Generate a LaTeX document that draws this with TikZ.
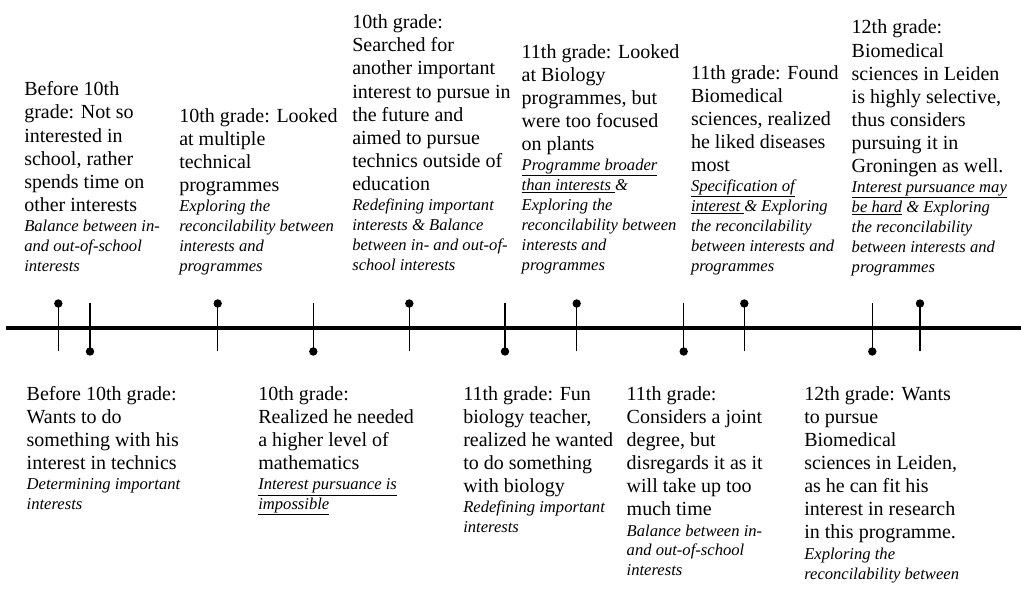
\documentclass[tikz,border=0pt]{standalone}
\usepackage{fontspec}
\setmainfont{Liberation Serif}

% event text: plain description followed by italic coding
\newcommand{\bodysize}{\fontsize{20}{23.1}\selectfont\upshape}
\newcommand{\notesize}{\fontsize{16.6}{19.9}\selectfont\itshape}
% above the line: last baseline sits on the anchor
\newcommand{\eventup}[2]{\parbox[b]{240pt}{\raggedright\bodysize #1\par\notesize #2\par}}
% below the line: first baseline sits on the anchor
\newcommand{\eventdown}[2]{\parbox[t]{240pt}{\raggedright\bodysize #1\par\vspace{0.6pt}\notesize #2\par}}

\tikzset{
  axis/.style={line width=3.4pt},
  tick/.style={line width=1.5pt},
  dot/.style={circle, fill=black, inner sep=0pt, minimum size=8.4pt},
  evt/.style={inner sep=0pt, outer sep=0pt, anchor=base west, text=black},
}

\begin{document}
\begin{tikzpicture}[x=1pt,y=-1pt]
\useasboundingbox (0,0) rectangle (1021,591);

% time axis
\coordinate (L) at (6,328);
\coordinate (R) at (1021,328);
\draw[axis] (L) -- (R);

% markers with the dot above the axis
\foreach \n/\x in {u1/58.3, u2/217.7, u3/409.3, u4/576.7, u5/744.3, u6/920} {
  \node[dot] (\n) at (\x,303.5) {};
  \coordinate (\n e) at (\x,351);
  \draw[tick] (\n.center) -- (\n e);
}
% markers with the dot below the axis
\foreach \n/\x in {d1/90, d2/313.3, d3/505, d4/683.7, d5/872.3} {
  \node[dot] (\n) at (\x,351.5) {};
  \coordinate (\n e) at (\x,303);
  \draw[tick] (\n.center) -- (\n e);
}

% events above the axis
\node[evt] (t1) at (24.3,271) {\eventup
  {Before 10th\\grade: Not so\\interested in\\school, rather\\spends time on\\other interests}
  {Balance between in-\\and out-of-school\\interests}};
\node[evt] (t2) at (179.3,271) {\eventup
  {10th grade: Looked\\at multiple\\technical\\programmes}
  {Exploring the\\reconcilability between\\interests and\\programmes}};
\node[evt] (t3) at (352.3,270) {\eventup
  {10th grade:\\Searched for\\another important\\interest to pursue in\\the future and\\aimed to pursue\\technics outside of\\education}
  {Redefining important\\interests \& Balance\\between in- and out-of-\\school interests}};
\node[evt] (t4) at (521.7,270) {\eventup
  {11th grade: Looked\\at Biology\\programmes, but\\were too focused\\on plants}
  {\underline{Programme broader}\\\underline{than interests\ }\&\\Exploring the\\reconcilability between\\interests and\\programmes}};
\node[evt] (t5) at (691,271) {\eventup
  {11th grade: Found\\Biomedical\\sciences, realized\\he liked diseases\\most}
  {\underline{Specification of}\\\underline{interest\ }\& Exploring\\the reconcilability\\between interests and\\programmes}};
\node[evt] (t6) at (851.7,272) {\eventup
  {12th grade:\\Biomedical\\sciences in Leiden\\is highly selective,\\thus considers\\pursuing it in\\Groningen as well.}
  {\underline{Interest pursuance may}\\\underline{be hard} \& Exploring\\the reconcilability\\between interests and\\programmes}};

% events below the axis
\node[evt] (b1) at (26.7,400) {\eventdown
  {Before 10th grade:\\Wants to do\\something with his\\interest in technics}
  {Determining important\\interests}};
\node[evt] (b2) at (258.3,400) {\eventdown
  {10th grade:\\Realized he needed\\a higher level of\\mathematics}
  {\underline{Interest pursuance is}\\\underline{impossible}}};
\node[evt] (b3) at (463.3,400) {\eventdown
  {11th grade: Fun\\biology teacher,\\realized he wanted\\to do something\\with biology}
  {Redefining important\\interests}};
\node[evt] (b4) at (626.7,400) {\eventdown
  {11th grade:\\Considers a joint\\degree, but\\disregards it as it\\will take up too\\much time}
  {Balance between in-\\and out-of-school\\interests}};
\node[evt] (b5) at (804.3,400) {\eventdown
  {12th grade: Wants\\to pursue\\Biomedical\\sciences in Leiden,\\as he can fit his\\interest in research\\in this programme.}
  {Exploring the\\reconcilability between}};
\end{tikzpicture}
\end{document}
